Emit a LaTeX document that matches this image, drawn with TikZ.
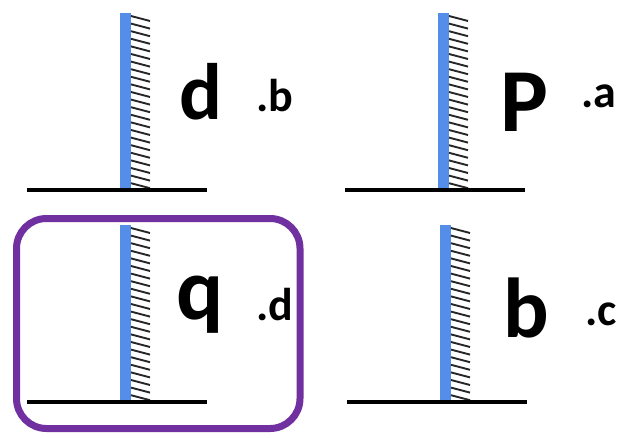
\documentclass[tikz,border=0pt]{standalone}
\usepackage{fontspec}
\setmainfont{Carlito}
\definecolor{mirrorblue}{RGB}{84,142,232}
\definecolor{framepurple}{RGB}{112,48,160}
% one mirror: #1 left edge of the glass, #2 height of the floor line
\newcommand{\mirrorwall}[2]{%
  \fill[mirrorblue] (#1,#2) rectangle ++(11,177);
  \foreach \k in {0,...,22}
    \draw[hatch] (#1+11,#2+174-\k*7.6) -- ++(19,-5);
  \draw[floor] (#1-93,#2) -- (#1+87,#2);
}
\begin{document}
\begin{tikzpicture}[x=1pt,y=1pt,
  hatch/.style={line width=1.9pt,color=black!85},
  floor/.style={line width=4.5pt},
  glyph/.style={anchor=base west,inner sep=0pt,font=\fontsize{#1}{#1}\bfseries\selectfont},
  tag/.style={anchor=base west,inner sep=0pt,font=\fontsize{46}{46}\bfseries\selectfont}]
\useasboundingbox (0,0) rectangle (644,437);
\mirrorwall{120}{247}
\mirrorwall{438}{247}
\mirrorwall{120}{35}
\mirrorwall{440}{35}
\node[glyph=80] (dglyph) at (179,317) {d};
\node[tag] (btag) at (256,325) {.b};
\node[glyph=90] (pglyph) at (500,305) {P};
\node[tag] (atag) at (581,329) {.a};
\node[glyph=88] (qglyph) at (176,118) {q};
\node[tag] (dtag) at (256,117) {.d};
\node[glyph=85] (bglyph) at (503,100) {b};
\node[tag] (ctag) at (585,112) {.c};
\draw[framepurple,line width=7pt,rounded corners=30pt] (16.5,8.5) rectangle (300,218.5);
\end{tikzpicture}
\end{document}
